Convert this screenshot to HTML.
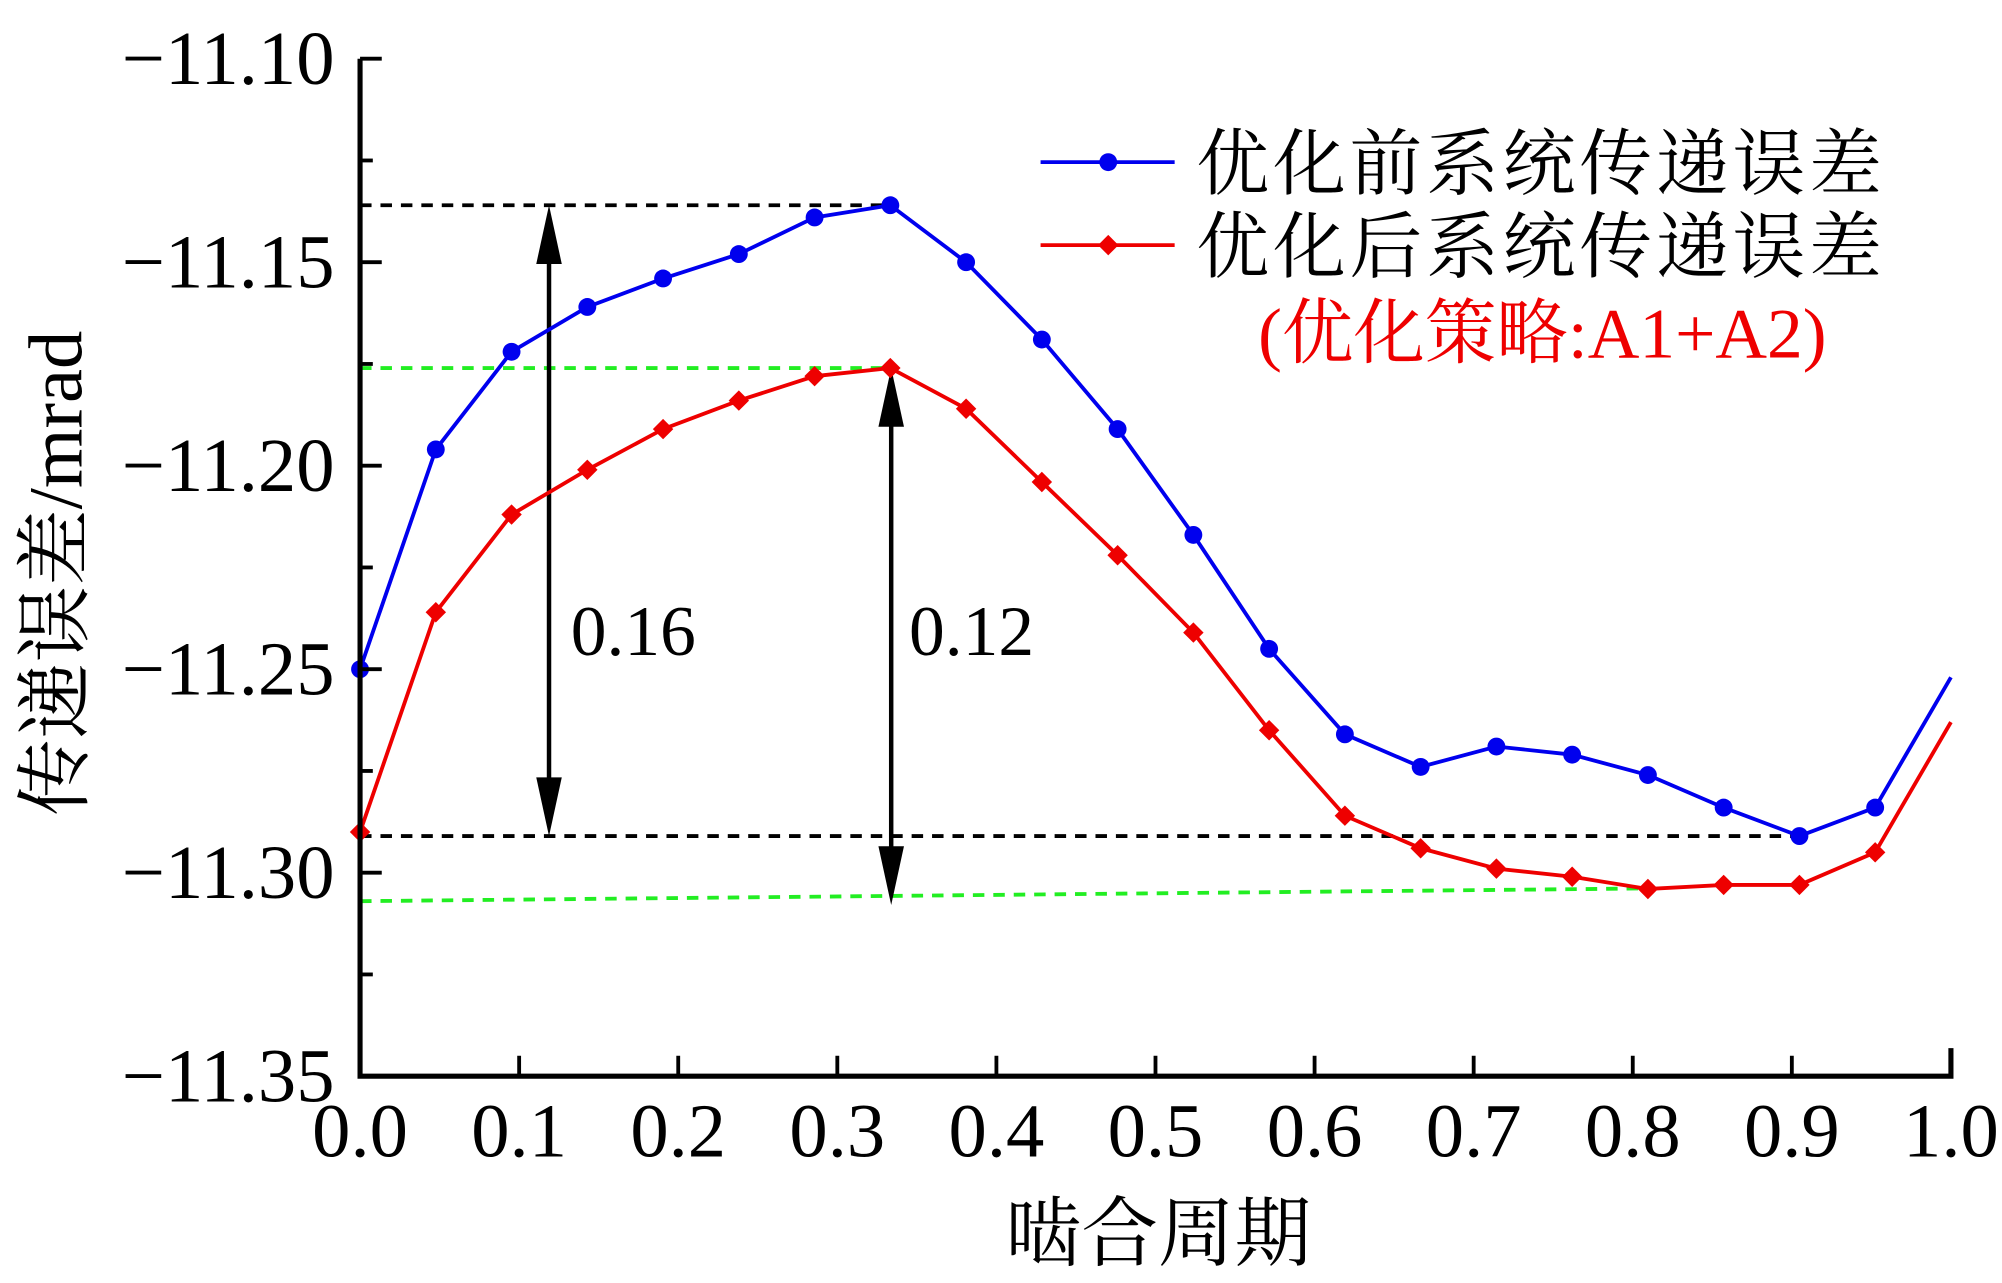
<!DOCTYPE html>
<html><head><meta charset="utf-8"><style>
html,body{margin:0;padding:0;background:#fff;}
svg{display:block;}
text{font-family:"Liberation Serif","Noto Serif CJK SC","Noto Sans CJK SC",serif;}
</style></head><body>
<svg id="chart" width="2002" height="1283" viewBox="0 0 1568 1005" preserveAspectRatio="none" xmlns="http://www.w3.org/2000/svg" font-family="Liberation Serif, Noto Serif CJK SC, serif">
<g id="refs"></g>
<g id="series"></g>
<g id="axes"></g>
<g id="legend">
  <line x1="815" y1="127" x2="920" y2="127" stroke="#0000ee" stroke-width="3"/>
  <circle cx="868" cy="127" r="7" fill="#0000ee"/>
  <text x="937" y="148" font-size="57" letter-spacing="3">优化前系统传递误差</text>
  <line x1="815" y1="192" x2="920" y2="192" stroke="#ee0000" stroke-width="3"/>
  <polygon points="868,184 876,192 868,200 860,192" fill="#ee0000"/>
  <text x="937" y="213" font-size="57" letter-spacing="3">优化后系统传递误差</text>
  <text x="1208" y="280" font-size="56" fill="#ee0000" text-anchor="middle">(优化策略:A1+A2)</text>
</g>
</svg>
<script>
const xTicks=[0,0.1,0.2,0.3,0.4,0.5,0.6,0.7,0.8,0.9,1.0];
const xTickLabels=["0.0","0.1","0.2","0.3","0.4","0.5","0.6","0.7","0.8","0.9","1.0"];
const yTicks=[-11.10,-11.15,-11.20,-11.25,-11.30,-11.35];
const yTickLabels=["\u221211.10","\u221211.15","\u221211.20","\u221211.25","\u221211.30","\u221211.35"];
const beforeValues=[-11.250,-11.196,-11.172,-11.161,-11.154,-11.148,-11.139,-11.136,-11.150,-11.169,-11.191,-11.217,-11.245,-11.266,-11.274,-11.269,-11.271,-11.276,-11.284,-11.291,-11.284,-11.252];
const afterValues=[-11.290,-11.236,-11.212,-11.201,-11.191,-11.184,-11.178,-11.176,-11.186,-11.204,-11.222,-11.241,-11.265,-11.286,-11.294,-11.299,-11.301,-11.304,-11.303,-11.303,-11.295,-11.263];
const beforeMax=-11.136, beforeMin=-11.291, afterMax=-11.176, afterMin=-11.307;

const NS="http://www.w3.org/2000/svg";
const X0=282,X1=1528,Y0=843,Y1=46,YMIN=-11.35,YMAX=-11.10;
const sx=v=>X0+(v-0)/(1-0)*(X1-X0);
const sy=v=>Y0-(v-YMIN)/(YMAX-YMIN)*(Y0-Y1);
function mk(tag,attrs,parent){const e=document.createElementNS(NS,tag);for(const k in attrs)e.setAttribute(k,attrs[k]);parent.appendChild(e);return e;}
const axes=document.getElementById('axes'),series=document.getElementById('series'),refs=document.getElementById('refs');

// series (drawn first so axis covers clipped end)
const xOf=i=>i/(beforeValues.length-1);
function draw(vals,col,marker,name){
  const g=mk('g',{},series);
  const pl=mk('polyline',{points:vals.map((v,i)=>sx(xOf(i))+','+sy(v)).join(' '),fill:'none',stroke:col,'stroke-width':3},g);
  
  
  vals.forEach((v,i)=>{
    if(i===vals.length-1)return;
    const x=sx(xOf(i)),y=sy(v);let m;
    if(marker==='circle')m=mk('circle',{cx:x,cy:y,r:7,fill:col},g);
    else m=mk('polygon',{points:`${x},${y-8} ${x+8},${y} ${x},${y+8} ${x-8},${y}`,fill:col},g);
    
    
  });
}

// reference lines
function dash(x1,y1,x2,y2,col,name){const l=mk('line',{x1,y1,x2,y2,stroke:col,'stroke-width':3,'stroke-dasharray':'9,7'},refs);}
dash(X0,sy(beforeMax),sx(xOf(7)),sy(beforeMax),'#000','before-max-line');
dash(X0,sy(beforeMin),sx(xOf(19)),sy(beforeMin),'#000','before-min-line');
dash(X0,sy(afterMax),sx(xOf(7)),sy(afterMax),'#22ee22','after-max-line');
dash(X0,sy(afterMin),sx(xOf(17)),sy(afterMin)-10,'#22ee22','after-min-line');
function arrow(x,ya,yb,name){
  const g=mk('g',{},refs);
  mk('line',{x1:x,x2:x,y1:ya+40,y2:yb-40,stroke:'#000','stroke-width':3.5},g);
  mk('polygon',{points:`${x},${ya} ${x-10},${ya+46} ${x+10},${ya+46}`,fill:'#000'},g);
  mk('polygon',{points:`${x},${yb} ${x-10},${yb-46} ${x+10},${yb-46}`,fill:'#000'},g);
}
arrow(430,sy(beforeMax),sy(beforeMin),'range-arrow-before');
arrow(698,sy(afterMax),sy(afterMin)+3,'range-arrow-after');
let e=mk('text',{x:447,y:513,'font-size':56},refs);e.textContent='0.16';


e=mk('text',{x:712,y:513,'font-size':56},refs);e.textContent='0.12';



draw(beforeValues,'#0000ee','circle','series-before');
draw(afterValues,'#ee0000','diamond','series-after');

// axes
e=mk('path',{d:`M${X0},${Y1} L${X0},${Y0} L${X1},${Y0} L${X1},${Y0-22}`,fill:'none',stroke:'#000','stroke-width':4},axes);


xTicks.forEach((t,i)=>{
  const l=mk('line',{x1:sx(t),x2:sx(t),y1:Y0,y2:Y0-16,stroke:'#000','stroke-width':3},axes);
  
  
  const tx=mk('text',{x:sx(t),y:906,'font-size':60,'text-anchor':'middle'},axes);
  tx.textContent=xTickLabels[i];
  
  
});
yTicks.forEach((t,i)=>{
  const l=mk('line',{x1:X0,x2:X0+17,y1:sy(t),y2:sy(t),stroke:'#000','stroke-width':3},axes);
  
  
  if(i<yTicks.length-1){
    const m=mk('line',{x1:X0,x2:X0+10,y1:sy(t-0.025),y2:sy(t-0.025),stroke:'#000','stroke-width':3},axes);
    
    
  }
  const tx=mk('text',{x:262,y:sy(t)+20,'font-size':60,'text-anchor':'end'},axes);
  tx.textContent=yTickLabels[i];
  
  
});
e=mk('text',{x:907,y:987,'font-size':60,'text-anchor':'middle'},axes);
e.textContent='啮合周期';


e=mk('text',{x:0,y:0,'font-size':60,'text-anchor':'middle',transform:'translate(64,449) rotate(-90)'},axes);
e.textContent='传递误差/mrad';


</script>
</body></html>
